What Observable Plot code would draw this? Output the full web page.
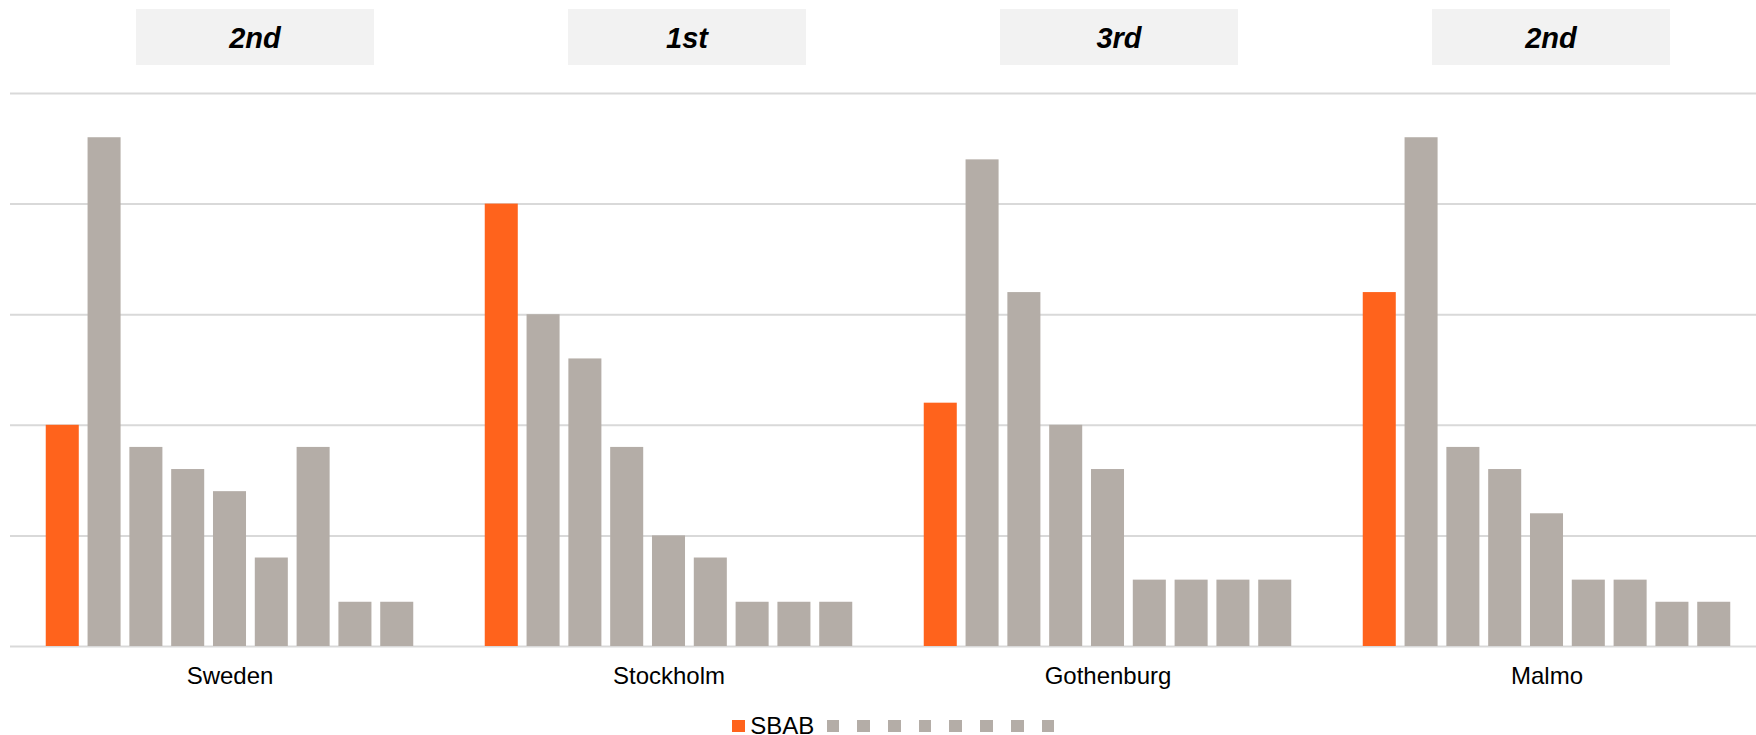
<!DOCTYPE html>
<html>
<head>
<meta charset="utf-8">
<script src="https://cdn.jsdelivr.net/npm/d3@7"></script>
<script src="https://cdn.jsdelivr.net/npm/@observablehq/plot@0.6"></script>
<style>
  html, body { margin: 0; padding: 0; background: #fff; overflow: hidden; width: 1756px; height: 735px; }
  #chart { position: absolute; left: 0; top: 0; }
  #ranks { position: absolute; left: 0; top: 0; width: 1756px; height: 70px; }
  .rank { position: absolute; top: 9px; width: 238px; height: 56px; background: #f2f2f2; text-align: center;
          font: italic bold 29px "Liberation Sans", Arial, sans-serif; line-height: 56px; color: #000; box-sizing: border-box; padding-top: 1px; }
  #legend { position: absolute; left: 732px; top: 714px; height: 24px; display: flex; align-items: center;
            font: 24px "Liberation Sans", Arial, sans-serif; color: #000; line-height: 24px; white-space: nowrap; }
  .item { display: flex; align-items: center; margin-right: 12.5px; }
  .sw { width: 12.7px; height: 12.7px; display: inline-block; }
  .lab { margin-left: 5.5px; }
</style>
</head>
<body>
<div id="chart"></div>
<div id="ranks"></div>
<div id="legend"></div>
<script>
// ---- data ----
const cities = ["Sweden", "Stockholm", "Gothenburg", "Malmo"];
const ranks = ["2nd", "1st", "3rd", "2nd"];
const series = ["SBAB", "Bank 2", "Bank 3", "Bank 4", "Bank 5", "Bank 6", "Bank 7", "Bank 8", "Bank 9"];
const legendLabels = ["SBAB", "", "", "", "", "", "", "", ""];
const sbabValues = [2.0, 4.0, 2.2, 3.2];
const swedenOthers = [4.6, 1.8, 1.6, 1.4, 0.8, 1.8, 0.4, 0.4];
const stockholmOthers = [3.0, 2.6, 1.8, 1.0, 0.8, 0.4, 0.4, 0.4];
const gothenburgOthers = [4.4, 3.2, 2.0, 1.6, 0.6, 0.6, 0.6, 0.6];
const malmoOthers = [4.6, 1.8, 1.6, 1.2, 0.6, 0.6, 0.4, 0.4];
const gridTicks = [0, 1, 2, 3, 4, 5];

const ORANGE = "#ff631c";
const GRAY = "#b4ada7";
const FONT = '"Liberation Sans", Arial, Helvetica, sans-serif';

const othersByCity = [swedenOthers, stockholmOthers, gothenburgOthers, malmoOthers];
const data = cities.flatMap((city, i) =>
  [sbabValues[i], ...othersByCity[i]].map((value, j) => ({city, series: series[j], value}))
);
const seriesColors = series.map((s, i) => (i === 0 ? ORANGE : GRAY));

const chart = Plot.plot({
  width: 1756,
  height: 700,
  marginTop: 93,
  marginBottom: 54,
  marginLeft: 10,
  marginRight: -10,
  style: {fontFamily: FONT, fontSize: "24px", color: "#000", background: "transparent"},
  fx: {domain: cities, padding: 0, round: false, axis: null, label: null},
  x: {domain: series, paddingInner: 0.21, paddingOuter: 0.855, round: false, axis: null, label: null},
  y: {domain: [0, 5], axis: null, label: null},
  color: {domain: series, range: seriesColors},
  marks: [
    Plot.ruleY(gridTicks, {y: d => d, stroke: "#d9d9d9", strokeWidth: 2}),
    Plot.barY(data, {fx: "city", x: "series", y: "value", fill: "series"}),
    Plot.text(cities, {fx: d => d, text: d => d, frameAnchor: "bottom", dy: 20, lineAnchor: "top",
      fontSize: 24, fill: "#000"})
  ]
});
document.getElementById("chart").appendChild(chart);

// ---- rank boxes above the groups (annotation row, evenly spaced) ----
const rankScale = d3.scaleBand().domain(cities).range([39, 1767]);
const ranksDiv = document.getElementById("ranks");
cities.forEach((c, i) => {
  const box = document.createElement("div");
  box.className = "rank";
  box.style.left = (rankScale(c) + rankScale.bandwidth() / 2 - 119) + "px";
  box.textContent = ranks[i];
  ranksDiv.appendChild(box);
});

// ---- legend ----
const legend = document.getElementById("legend");
series.forEach((s, i) => {
  const item = document.createElement("span");
  item.className = "item";
  const sw = document.createElement("span");
  sw.className = "sw";
  sw.style.background = seriesColors[i];
  const lab = document.createElement("span");
  lab.className = "lab";
  lab.textContent = legendLabels[i];
  item.appendChild(sw);
  item.appendChild(lab);
  legend.appendChild(item);
});
</script>
</body>
</html>
